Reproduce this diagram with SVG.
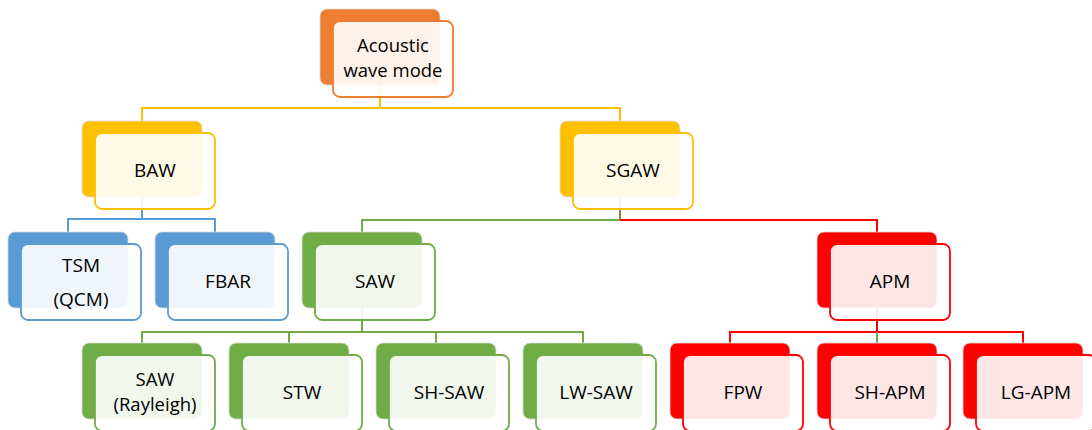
<svg xmlns="http://www.w3.org/2000/svg" width="1092" height="430" viewBox="0 0 1092 430">
<style>
.bk{stroke:#d9d9d9;stroke-width:0.8}
.fr{fill:#ffffff;fill-opacity:0.9;stroke-width:1.8}
.t{font-family:"Open Sans","Noto Sans","DejaVu Sans",sans-serif;font-size:19px;fill:#000;text-anchor:middle}
.t2{font-size:18.5px}
.c{fill:none;stroke-width:2}
.or .bk{fill:#ED7D31}.or .fr{stroke:#ED7D31}
.yl .bk{fill:#FFC000}.yl .fr{stroke:#FFC000}
.bl .bk{fill:#5B9BD5}.bl .fr{stroke:#5B9BD5}
.gr .bk{fill:#70AD47}.gr .fr{stroke:#70AD47}
.rd .bk{fill:#FF0000}.rd .fr{stroke:#FF0000}
</style>
<rect width="1092" height="430" fill="#ffffff"/>
<g id="connectors">
<path class="c" stroke="#FFC000" d="M380,84 V108 M142,121 V108 H620 V121"/>
<path class="c" stroke="#5B9BD5" d="M142,197 V219 M68,232 V219 H215 V232"/>
<path class="c" stroke="#FF0000" d="M620,220 H877 V232"/>
<path class="c" stroke="#70AD47" d="M362,232 V220 H620"/>
<path class="c" stroke="#8A7F35" d="M620,197 V220"/>
<path class="c" stroke="#70AD47" d="M362,307 V332 M142,343 V332 H583 V343 M289,332 V343 M436,332 V343"/>
<path class="c" stroke="#FF0000" d="M877,307 V332 M730,343 V332 H1023 V343"/>
<path class="c" stroke="#70AD47" d="M877,332 V343"/>
</g>
<g id="n-root" class="or">
<rect class="bk" x="320" y="9" width="120" height="76" rx="7"/>
<rect class="fr" x="333" y="21" width="120" height="76" rx="7"/>
<text class="t t2" x="393" y="52">Acoustic</text>
<text class="t t2" x="393" y="77">wave mode</text>
</g>
<g id="n-baw" class="yl">
<rect class="bk" x="82" y="121" width="120" height="76" rx="7"/>
<rect class="fr" x="95" y="133" width="120" height="76" rx="7"/>
<text class="t" x="155" y="177">BAW</text>
</g>
<g id="n-sgaw" class="yl">
<rect class="bk" x="560" y="121" width="120" height="76" rx="7"/>
<rect class="fr" x="573" y="133" width="120" height="76" rx="7"/>
<text class="t" x="633" y="177">SGAW</text>
</g>
<g id="n-tsm" class="bl">
<rect class="bk" x="8" y="232" width="120" height="76" rx="7"/>
<rect class="fr" x="21" y="244" width="120" height="76" rx="7"/>
<text class="t" x="81" y="272">TSM</text>
<text class="t" x="81" y="306">(QCM)</text>
</g>
<g id="n-fbar" class="bl">
<rect class="bk" x="155" y="232" width="120" height="76" rx="7"/>
<rect class="fr" x="168" y="244" width="120" height="76" rx="7"/>
<text class="t" x="228" y="288">FBAR</text>
</g>
<g id="n-saw" class="gr">
<rect class="bk" x="302" y="232" width="120" height="76" rx="7"/>
<rect class="fr" x="315" y="244" width="120" height="76" rx="7"/>
<text class="t" x="375" y="288">SAW</text>
</g>
<g id="n-apm" class="rd">
<rect class="bk" x="817" y="232" width="120" height="76" rx="7"/>
<rect class="fr" x="830" y="244" width="120" height="76" rx="7"/>
<text class="t" x="890" y="288">APM</text>
</g>
<g id="n-rayleigh" class="gr">
<rect class="bk" x="82" y="343" width="120" height="76" rx="7"/>
<rect class="fr" x="95" y="355" width="120" height="76" rx="7"/>
<text class="t t2" x="155" y="386">SAW</text>
<text class="t t2" x="155" y="411">(Rayleigh)</text>
</g>
<g id="n-stw" class="gr">
<rect class="bk" x="229" y="343" width="120" height="76" rx="7"/>
<rect class="fr" x="242" y="355" width="120" height="76" rx="7"/>
<text class="t" x="302" y="399">STW</text>
</g>
<g id="n-shsaw" class="gr">
<rect class="bk" x="376" y="343" width="120" height="76" rx="7"/>
<rect class="fr" x="389" y="355" width="120" height="76" rx="7"/>
<text class="t" x="449" y="399">SH-SAW</text>
</g>
<g id="n-lwsaw" class="gr">
<rect class="bk" x="523" y="343" width="120" height="76" rx="7"/>
<rect class="fr" x="536" y="355" width="120" height="76" rx="7"/>
<text class="t" x="596" y="399">LW-SAW</text>
</g>
<g id="n-fpw" class="rd">
<rect class="bk" x="670" y="343" width="120" height="76" rx="7"/>
<rect class="fr" x="683" y="355" width="120" height="76" rx="7"/>
<text class="t" x="743" y="399">FPW</text>
</g>
<g id="n-shapm" class="rd">
<rect class="bk" x="817" y="343" width="120" height="76" rx="7"/>
<rect class="fr" x="830" y="355" width="120" height="76" rx="7"/>
<text class="t" x="890" y="399">SH-APM</text>
</g>
<g id="n-lgapm" class="rd">
<rect class="bk" x="963" y="343" width="120" height="76" rx="7"/>
<rect class="fr" x="976" y="355" width="120" height="76" rx="7"/>
<text class="t" x="1036" y="399">LG-APM</text>
</g>
</svg>
